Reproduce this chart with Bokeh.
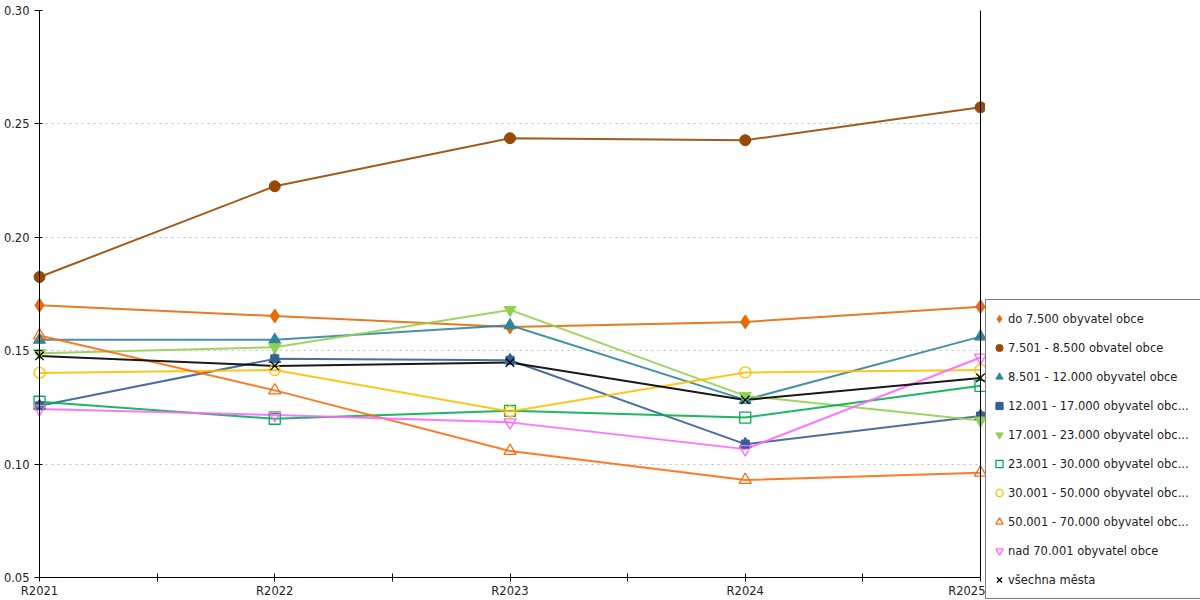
from bokeh.plotting import figure
from bokeh.layouts import row
from bokeh.models import (Legend, LegendItem, LinearAxis, FixedTicker, Range1d,
                          PrintfTickFormatter)
from bokeh.embed import file_html
from bokeh.resources import INLINE

years = ["R2021", "R2022", "R2023", "R2024", "R2025"]

do_7500 = [0.170, 0.1653, 0.1605, 0.1627, 0.1694]
r7501_8500 = [0.1825, 0.2225, 0.2437, 0.2428, 0.2573]
r8501_12000 = [0.1548, 0.1548, 0.1612, 0.1283, 0.1562]
r12001_17000 = [0.1257, 0.1464, 0.1458, 0.1088, 0.1212]
r17001_23000 = [0.1489, 0.1515, 0.1680, 0.1301, 0.1192]
r23001_30000 = [0.1275, 0.1200, 0.1235, 0.1205, 0.1345]
r30001_50000 = [0.1402, 0.1415, 0.1232, 0.1404, 0.1415]
r50001_70000 = [0.1567, 0.1325, 0.1058, 0.0930, 0.0962]
nad_70001 = [0.1243, 0.1216, 0.1184, 0.1066, 0.1470]
vsechna = [0.1477, 0.1433, 0.1448, 0.1283, 0.1380]

labels = [
    "do 7.500 obyvatel obce",
    "7.501 - 8.500 obvatel obce",
    "8.501 - 12.000 obyvatel obce",
    "12.001 - 17.000 obyvatel obc...",
    "17.001 - 23.000 obyvatel obc...",
    "23.001 - 30.000 obyvatel obc...",
    "30.001 - 50.000 obyvatel obc...",
    "50.001 - 70.000 obyvatel obc...",
    "nad 70.001 obyvatel obce",
    "všechna města",
]
series = [do_7500, r7501_8500, r8501_12000, r12001_17000, r17001_23000,
          r23001_30000, r30001_50000, r50001_70000, nad_70001, vsechna]
colors = ["#E46C0A", "#984807", "#31859C", "#376092", "#92D050",
          "#00B050", "#FFC000", "#FF6A10", "#FF66FF", "#000000"]
# (marker, size, filled)
markers = [("diamond", 14, True), ("circle", 11, True), ("triangle", 12, True),
           ("house", 12, True), ("inverted_triangle", 12, True),
           ("square", 11, False), ("circle", 11, False), ("triangle", 12, False),
           ("inverted_triangle", 12, False), ("x", 12, False)]

FONT = "DejaVu Sans"
x = list(range(len(years)))

p = figure(width=985, height=600, output_backend="svg", toolbar_location=None,
           x_range=Range1d(0, len(years) - 1), y_range=Range1d(0.05, 0.30),
           min_border_left=39, min_border_right=5, min_border_top=10,
           min_border_bottom=22)
p.outline_line_color = None
p.background_fill_color = "white"
p.border_fill_color = "white"

# axes
p.xaxis.ticker = FixedTicker(ticks=[i * 0.5 for i in range(2 * len(years) - 1)],
                             minor_ticks=[])
p.xaxis.major_label_overrides = {
    **{i * 0.5: "" for i in range(2 * len(years) - 1)},
    **{float(i): years[i] for i in range(len(years))},
    **{i: years[i] for i in range(len(years))},
}
p.yaxis.ticker = FixedTicker(ticks=[0.05, 0.10, 0.15, 0.20, 0.25, 0.30], minor_ticks=[])
p.yaxis.formatter = PrintfTickFormatter(format="%.2f")
for ax in (p.xaxis[0], p.yaxis[0]):
    ax.axis_line_color = "black"
    ax.axis_line_width = 1
    ax.major_tick_line_color = "black"
    ax.major_tick_in = 4
    ax.major_tick_out = 4
    ax.minor_tick_line_color = None
    ax.major_label_text_font = FONT
    ax.major_label_text_font_size = "11.5px"
    ax.major_label_text_color = "#222222"
    ax.major_label_standoff = 2
p.yaxis.major_tick_in = 3
p.yaxis.major_tick_out = 5
p.yaxis.major_label_standoff = 5

right_ax = LinearAxis(major_tick_line_color=None, minor_tick_line_color=None,
                      major_label_text_font_size="0px", axis_line_color="black",
                      ticker=FixedTicker(ticks=[]), major_label_standoff=0)
p.add_layout(right_ax, "right")

p.xgrid.grid_line_color = None
p.ygrid.grid_line_color = "#BFBFBF"
p.ygrid.grid_line_dash = "2 4"
p.ygrid.grid_line_width = 1

# legend figure (sits to the right, holds only the legend; its ranges keep
# its own copies of the markers out of view)
pl = figure(width=215, height=600, output_backend="svg", toolbar_location=None,
            x_range=Range1d(-20, -10), y_range=Range1d(-20, -10),
            x_axis_type=None, y_axis_type=None, min_border=0)
pl.frame_align = False
pl.outline_line_color = None
pl.xgrid.grid_line_color = None
pl.ygrid.grid_line_color = None

def add_markers(fig, xs, ys, col, mk, sz, filled, level):
    if mk == "house":
        r1 = fig.scatter(xs, ys, marker="square", size=sz * 0.67, fill_color=col,
                         line_color=col, level=level)
        r2 = fig.scatter(xs, ys, marker="triangle", size=sz, fill_color=col,
                         line_color=col, level=level)
        return [r1, r2]
    if filled:
        return [fig.scatter(xs, ys, marker=mk, size=sz, fill_color=col,
                            line_color=col, level=level)]
    return [fig.scatter(xs, ys, marker=mk, size=sz, fill_alpha=0, line_color=col,
                        line_width=1.3, level=level)]

items = []
for lab, ys, col, (mk, sz, filled) in zip(labels, series, colors, markers):
    p.line(x, ys, line_color=col, line_width=2, line_alpha=0.9)
    add_markers(p, x, ys, col, mk, sz, filled, "guide")
    rs = add_markers(pl, x, ys, col, mk, sz, filled, "glyph")
    items.append(LegendItem(label=lab, renderers=rs))

legend = Legend(items=items, location=(0, 1), orientation="vertical",
                label_text_font=FONT, label_text_font_size="11.5px",
                label_text_color="#222222",
                border_line_color="black", border_line_width=1,
                background_fill_color="white", background_fill_alpha=1,
                padding=4, margin=0, spacing=0, glyph_width=18, glyph_height=29,
                label_height=29, label_width=188, label_standoff=0)
pl.add_layout(legend, "center")

layout = row(p, pl, spacing=0)
open("out.html", "w").write(file_html(layout, INLINE))
